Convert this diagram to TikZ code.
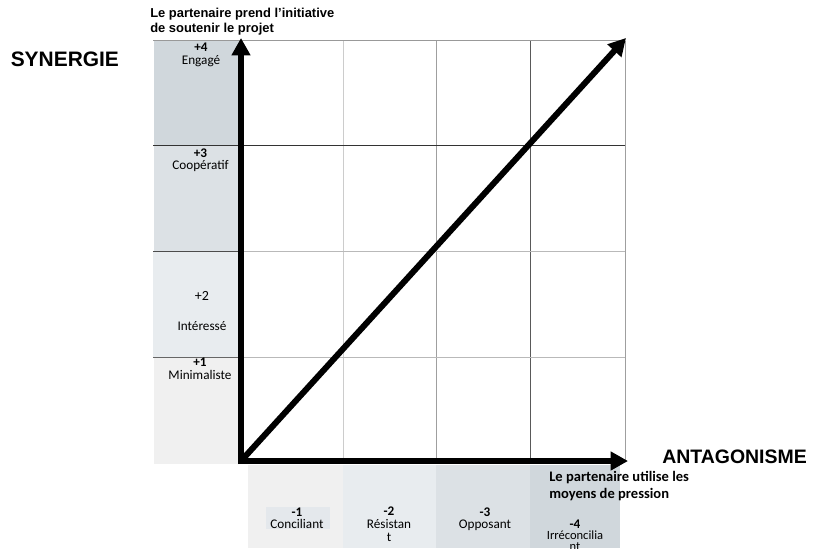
\documentclass[tikz,border=0pt]{standalone}
\usepackage{fontspec}
\setmainfont{Carlito}
\newfontfamily\arialf{Liberation Sans}
\usetikzlibrary{arrows.meta}
\definecolor{bandA}{HTML}{D0D7DC}
\definecolor{bandB}{HTML}{DCE1E5}
\definecolor{bandC}{HTML}{E8ECEF}
\definecolor{bandD}{HTML}{F0F0F0}
\definecolor{hilite}{HTML}{E4E8EC}
\begin{document}
\begin{tikzpicture}[x=0.75pt,y=-0.75pt,
  lbl/.style={inner sep=0, anchor=base, font=\fontsize{9.9}{11}\selectfont},
  smalllbl/.style={inner sep=0, anchor=base, font=\fontsize{9.4}{11}\selectfont},
  num/.style={inner sep=0, anchor=base, font=\bfseries\fontsize{9.9}{11}\selectfont},
  numplain/.style={inner sep=0, anchor=base, font=\fontsize{10.5}{11}\selectfont},
  big/.style={inner sep=0, anchor=base west, font=\arialf\bfseries\fontsize{15.7}{18}\selectfont},
  bigb/.style={inner sep=0, anchor=base west, font=\arialf\bfseries\fontsize{14.6}{18}\selectfont},
  toplbl/.style={inner sep=0, anchor=base west, font=\arialf\bfseries\fontsize{9.7}{11}\selectfont},
  botlbl/.style={inner sep=0, anchor=base west, font=\bfseries\fontsize{10.9}{12}\selectfont},
  gridln/.style={line width=0.75pt},
  axis/.style={line width=4.5pt, -{Triangle[length=13pt,width=13.5pt]}}]
\useasboundingbox (0,0) rectangle (813,549);
\fill[white] (0,0) rectangle (813,549);

% left band
\fill[bandA] (154,41) rectangle (241,146);
\fill[bandB] (154,146) rectangle (241,251);
\fill[bandC] (153,251) rectangle (241,357);
\fill[bandD] (154,357) rectangle (243,464);

% bottom band
\fill[bandD] (248,465) rectangle (343,548);
\fill[bandC] (343,465) rectangle (436,548);
\fill[bandB] (436,465) rectangle (530,548);
\fill[bandA] (530,465) rectangle (620,548);
\fill[hilite] (266,507) rectangle (330,529);

% grid
\draw[gridln, gray!40] (343,41) -- (343,461);
\draw[gridln, gray!75] (436,41) -- (436,461);
\draw[gridln, black!65] (530,41) -- (530,461);
\draw[gridln, gray!75] (625,41) -- (625,461);
\draw[gridln, gray!80] (153,41) -- (625,41);
\draw[gridln, black!80] (153,146) -- (625,146);
\draw[gridln, gray!55] (241,251) -- (625,251);
\draw[gridln, black!70] (153,251) -- (241,251);
\draw[gridln, gray!55] (241,357) -- (625,357);
\draw[gridln, black!60] (153,357) -- (241,357);

% axes
\coordinate (O) at (241,461);
\coordinate (Ob) at (241,464);
\coordinate (Ol) at (238,461);
\coordinate (Ytip) at (241,38);
\coordinate (Xtip) at (628,461);
\coordinate (Dtip) at (626,38);
\draw[axis] (Ob) -- (Ytip);
\draw[axis] (Ol) -- (Xtip);
\draw[axis] (O) -- (Dtip);

% headings
\node[big] (syn) at (10.5,67) {SYNERGIE};
\node[bigb] (ant) at (662,463) {ANTAGONISME};
\node[toplbl] (t1) at (150,18) {Le partenaire prend l’initiative};
\node[toplbl] (t2) at (150,33) {de soutenir le projet};
\node[botlbl] (b1) at (549,481) {Le partenaire utilise les};
\node[botlbl] (b2) at (549,498) {moyens de pression};

% left labels
\node[num] (p4) at (201,52) {+4};
\node[lbl] (p4l) at (201,65) {Engagé};
\node[num] (p3) at (200.5,157) {+3};
\node[lbl] (p3l) at (200.5,170) {Coopératif};
\node[numplain] (p2) at (202,300) {+2};
\node[lbl] (p2l) at (202,330) {Intéressé};
\node[num] (p1) at (200,366) {+1};
\node[lbl] (p1l) at (200,379) {Minimaliste};

% bottom labels
\node[num] (m1) at (297,516) {-1};
\node[lbl] (m1l) at (297,528) {Conciliant};
\node[num] (m2) at (389,515.5) {-2};
\node[lbl] (m2l) at (389,528.5) {Résistan};
\node[lbl] (m2m) at (389,541.5) {t};
\node[num] (m3) at (485,516) {-3};
\node[lbl] (m3l) at (485,528) {Opposant};
\node[num] (m4) at (575,528) {-4};
\node[smalllbl] (m4l) at (575,539) {Irréconcilia};
\node[smalllbl] (m4m) at (575,550) {nt};
\end{tikzpicture}
\end{document}
